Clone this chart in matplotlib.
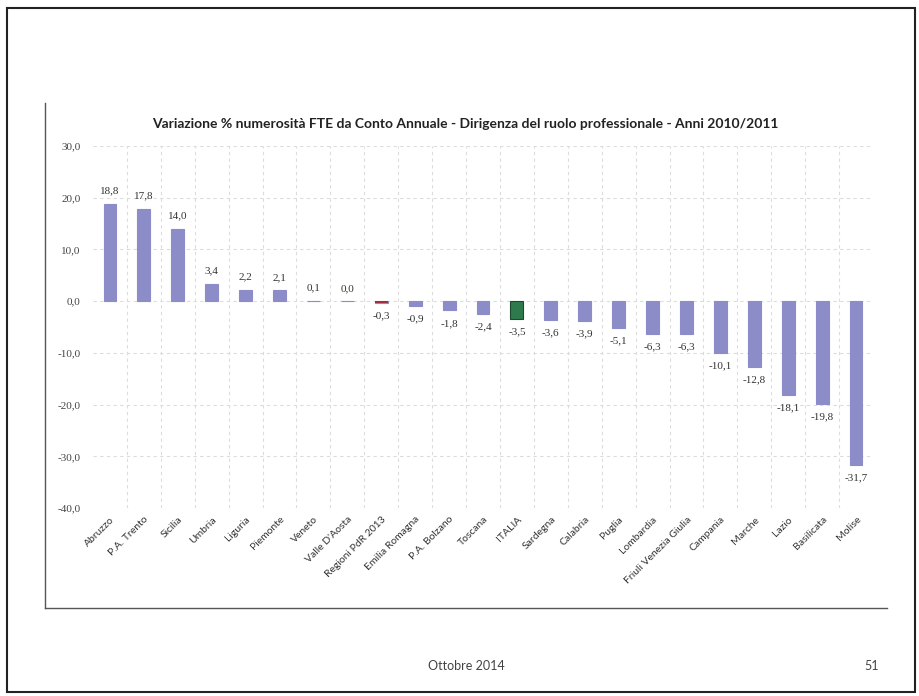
import matplotlib.pyplot as plt
from matplotlib.patches import Rectangle
from matplotlib.lines import Line2D

# Data
regioni = ['Abruzzo', 'P.A. Trento', 'Sicilia', 'Umbria', 'Liguria', 'Piemonte',
           'Veneto', "Valle D'Aosta", 'Regioni PdR 2013', 'Emilia Romagna',
           'P.A. Bolzano', 'Toscana', 'ITALIA', 'Sardegna', 'Calabria', 'Puglia',
           'Lombardia', 'Friuli Venezia Giulia', 'Campania', 'Marche', 'Lazio',
           'Basilicata', 'Molise']
variazione = [18.8, 17.8, 14.0, 3.4, 2.2, 2.1, 0.1, 0.0, -0.3, -0.9, -1.8, -2.4,
              -3.5, -3.6, -3.9, -5.1, -6.3, -6.3, -10.1, -12.8, -18.1, -19.8, -31.7]
y_ticks = [30, 20, 10, 0, -10, -20, -30, -40]

plt.rcParams['font.family'] = ['Lato', 'DejaVu Sans']

fig = plt.figure(figsize=(9.2, 6.96), dpi=100)
ax = fig.add_axes([93 / 920, 1 - 508 / 696, 780 / 920, 362 / 696])

colors = ['#2f7a4c' if r == 'ITALIA' else '#8c8cc8' for r in regioni]
edges = ['#1c4a2e' if r == 'ITALIA' else '#8c8cc8' for r in regioni]
x = list(range(len(regioni)))
ax.bar(x, variazione, width=0.38, color=colors, edgecolor=edges, linewidth=0.8, zorder=3)
# thin red line for the tiny negative value of Regioni PdR
ax.bar([8], [variazione[8]], width=0.38, color='#a03040', zorder=4)

for xi, v in zip(x, variazione):
    lab = f'{v:.1f}'.replace('.', ',')
    off = 6 if v >= 0 else -6
    ax.annotate(lab, (xi, v), xytext=(0, off), textcoords='offset points',
                ha='center', va='bottom' if v >= 0 else 'top', fontsize=8,
                family='Liberation Serif', color='#333333')

ax.set_xlim(-0.5, len(regioni) - 0.5)
ax.set_ylim(-40, 30)
ax.set_yticks(y_ticks)
ax.set_yticklabels([f'{t:.1f}'.replace('.', ',') for t in y_ticks],
                   fontsize=8, family='Liberation Serif', color='#444444')
ax.tick_params(axis='y', length=0, pad=9)

ax.set_xticks(x)
ax.set_xticklabels(regioni, rotation=45, ha='right', rotation_mode='anchor',
                   fontsize=7.5, color='#333333')
ax.tick_params(axis='x', length=0, pad=5)

ax.set_xticks([i + 0.5 for i in x[:-1]], minor=True)
ax.grid(True, axis='y', which='major', linestyle=(0, (3, 3)), color='#dcdcdc', linewidth=0.8)
ax.grid(True, axis='x', which='minor', linestyle=(0, (3, 3)), color='#dcdcdc', linewidth=0.8)
ax.tick_params(axis='x', which='minor', length=0)
for s in ax.spines.values():
    s.set_visible(False)

fig.text(465 / 920, 1 - 124 / 696,
         'Variazione % numerosità FTE da Conto Annuale - Dirigenza del ruolo professionale - Anni 2010/2011',
         ha='center', va='center', fontsize=10, fontweight='bold', color='#222222')

# slide frames
fig.add_artist(Rectangle((7 / 920, 1 - 692 / 696), 908 / 920, 684 / 696,
                         transform=fig.transFigure, fill=False, edgecolor='#222222', linewidth=1.5))
fig.add_artist(Line2D([45 / 920, 45 / 920], [1 - 103 / 696, 1 - 608 / 696],
                      transform=fig.transFigure, color='#555555', linewidth=1))
fig.add_artist(Line2D([45 / 920, 887 / 920], [1 - 608 / 696, 1 - 608 / 696],
                      transform=fig.transFigure, color='#555555', linewidth=1))

fig.text(466 / 920, 1 - 666 / 696, 'Ottobre 2014', ha='center', va='center',
         fontsize=9, color='#444444')
fig.text(872 / 920, 1 - 666 / 696, '51', ha='center', va='center',
         fontsize=9, color='#444444')

fig.savefig('out.png', dpi=100)
